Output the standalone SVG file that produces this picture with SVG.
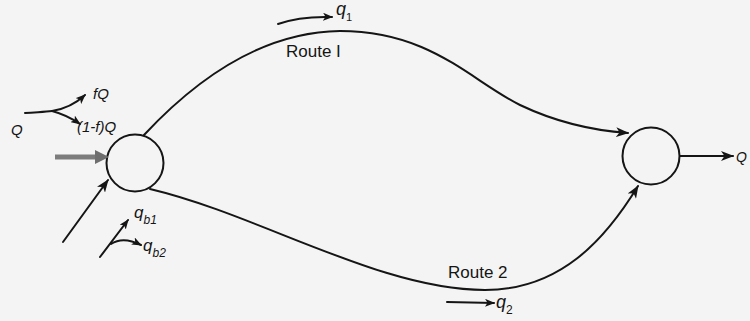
<svg xmlns="http://www.w3.org/2000/svg" width="750" height="321" viewBox="0 0 750 321">
<defs>
<marker id="ah" markerUnits="userSpaceOnUse" markerWidth="13" markerHeight="10" viewBox="0 0 13 10" refX="12" refY="5" orient="auto">
<path d="M0,0 L13,5 L0,10 L3.5,5 z" fill="#151515"/>
</marker>
<marker id="ahs" markerUnits="userSpaceOnUse" markerWidth="10" markerHeight="8" viewBox="0 0 10 8" refX="9" refY="4" orient="auto">
<path d="M0,0 L10,4 L0,8 L2.5,4 z" fill="#151515"/>
</marker>
</defs>
<style>
.ln{fill:none;stroke:#151515;stroke-width:2;stroke-linecap:round}
.nd{fill:none;stroke:#151515;stroke-width:2}
.m{font-family:"Liberation Sans",Arial,sans-serif;font-style:italic;fill:#151515}
.r{font-family:"Liberation Sans",Arial,sans-serif;fill:#151515;font-size:17px}
</style>
<rect width="750" height="321" fill="#f4f4f4"/>

<g id="node-origin">
<circle class="nd" cx="135" cy="163" r="28.5"/>
</g>
<g id="node-destination">
<circle class="nd" cx="651" cy="156" r="28.5"/>
</g>

<g id="connectors">
<path id="route-1" class="ln" d="M144,135 C200,75 265,32 340,31 C430,31 470,80 520,105 C560,124 600,131 628,133" marker-end="url(#ah)"/>
<path id="route-2" class="ln" d="M150,189 C260,215 380,290 485,290 C560,290 605,240 638,186" marker-end="url(#ah)"/>
<path class="ln" d="M680,156 L733,156" marker-end="url(#ah)"/>
<path class="ln" d="M63,242 L108,180" marker-end="url(#ah)"/>
<line x1="55" y1="157" x2="99" y2="157" stroke="#7c7c7c" stroke-width="5"/>
<path d="M95,150 L109,157 L95,164 z" fill="#6e6e6e"/>
<path class="ln" d="M25,113 C38,112 45,112 52,111"/>
<path class="ln" d="M52,111 Q71,108 85,95" marker-end="url(#ahs)"/>
<path class="ln" d="M52,111 Q67,115 80,124" marker-end="url(#ahs)"/>
<path class="ln" d="M100,257 L128,220" marker-end="url(#ahs)"/>
<path class="ln" d="M111,244 Q123,236 141,245" marker-end="url(#ahs)"/>
<path class="ln" d="M278,24 Q300,16 332,17" marker-end="url(#ahs)"/>
<path class="ln" d="M447,302 L494,303" marker-end="url(#ahs)"/>
</g>

<g id="labels">
<text class="r" x="286" y="57">Route I</text>
<text class="r" x="448" y="278">Route 2</text>
<text class="m" x="11" y="135" font-size="15">Q</text>
<text class="m" x="93" y="99" font-size="15">fQ</text>
<text class="m" x="77" y="132" font-size="15">(1-f)Q</text>
<text class="m" x="736" y="162" font-size="14">Q</text>
<text class="m" x="336" y="15" font-size="18">q<tspan font-size="11" dy="6" font-style="normal">1</tspan></text>
<text class="m" x="496" y="308" font-size="18">q<tspan font-size="12" dy="6" font-style="normal">2</tspan></text>
<text class="m" x="134" y="218" font-size="17">q<tspan font-size="12" dy="6">b1</tspan></text>
<text class="m" x="143" y="251" font-size="17">q<tspan font-size="12" dy="6">b2</tspan></text>
</g>
</svg>
